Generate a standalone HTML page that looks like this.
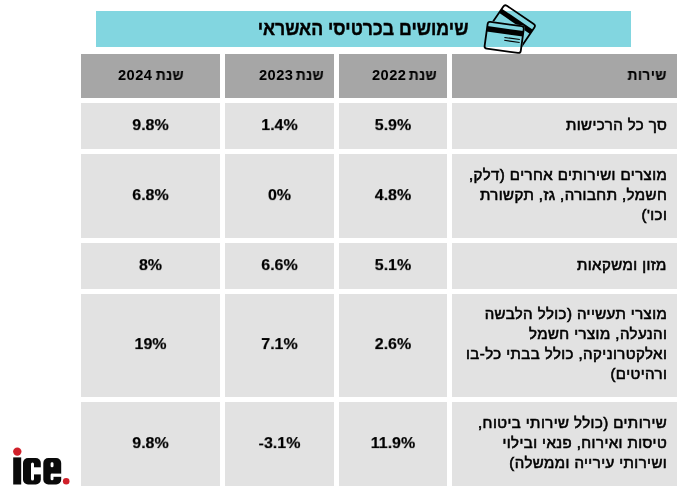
<!DOCTYPE html>
<html lang="he" dir="rtl">
<head>
<meta charset="utf-8">
<style>
html,body{margin:0;padding:0;background:#fff;width:696px;height:500px;overflow:hidden;}
body{position:relative;font-family:"Liberation Sans",sans-serif;color:#1a1a1a;}
.abs{position:absolute;}
.title{left:96px;top:11px;width:535px;height:36px;background:#82d6e0;}
.title span{position:absolute;right:163px;top:-0.7px;line-height:36px;font-size:20px;font-weight:bold;white-space:nowrap;color:#000;-webkit-text-stroke:0.45px #000;transform:scaleX(0.884);transform-origin:right center;}
.c{position:absolute;background:#e2e2e2;box-sizing:border-box;}
.h{background:#a6a6a6;}
.t{will-change:transform;position:absolute;font-size:15px;line-height:19px;white-space:nowrap;color:#000;-webkit-text-stroke:0.6px #000;letter-spacing:0.43px;}
.t.num{font-size:16px;letter-spacing:0;}
.b{font-weight:bold;}
.t.hd{font-size:14.67px;-webkit-text-stroke:0;}
.t.hh{transform:scaleX(.94);transform-origin:right center;-webkit-text-stroke:0.2px #000;}
.num{font-weight:bold;text-align:center;direction:ltr;-webkit-text-stroke:0.2px #000;transform:scaleY(.92);transform-origin:50% 4px;}
</style>
</head>
<body>
<div class="abs title"><span>שימושים בכרטיסי האשראי</span></div>

<!-- header -->
<div class="c h" style="left:81px;top:54px;width:139px;height:44px;"></div>
<div class="c h" style="left:225px;top:54px;width:109px;height:44px;"></div>
<div class="c h" style="left:339px;top:54px;width:108px;height:44px;"></div>
<div class="c h" style="left:452px;top:54px;width:225px;height:44px;"></div>

<!-- rows -->
<div class="c" style="left:81px;top:103px;width:139px;height:45.6px;"></div>
<div class="c" style="left:225px;top:103px;width:109px;height:45.6px;"></div>
<div class="c" style="left:339px;top:103px;width:108px;height:45.6px;"></div>
<div class="c" style="left:452px;top:103px;width:225px;height:45.6px;"></div>

<div class="c" style="left:81px;top:154px;width:139px;height:84px;"></div>
<div class="c" style="left:225px;top:154px;width:109px;height:84px;"></div>
<div class="c" style="left:339px;top:154px;width:108px;height:84px;"></div>
<div class="c" style="left:452px;top:154px;width:225px;height:84px;"></div>

<div class="c" style="left:81px;top:243px;width:139px;height:45.6px;"></div>
<div class="c" style="left:225px;top:243px;width:109px;height:45.6px;"></div>
<div class="c" style="left:339px;top:243px;width:108px;height:45.6px;"></div>
<div class="c" style="left:452px;top:243px;width:225px;height:45.6px;"></div>

<div class="c" style="left:81px;top:294px;width:139px;height:103px;"></div>
<div class="c" style="left:225px;top:294px;width:109px;height:103px;"></div>
<div class="c" style="left:339px;top:294px;width:108px;height:103px;"></div>
<div class="c" style="left:452px;top:294px;width:225px;height:103px;"></div>

<div class="c" style="left:81px;top:402px;width:139px;height:84px;"></div>
<div class="c" style="left:225px;top:402px;width:109px;height:84px;"></div>
<div class="c" style="left:339px;top:402px;width:108px;height:84px;"></div>
<div class="c" style="left:452px;top:402px;width:225px;height:84px;"></div>

<!-- header text -->
<div class="t b hd hh" style="right:29.5px;top:66px;">שירות</div>
<div class="t b hd hh" style="right:258.7px;top:66px;">שנת</div>
<div class="t b hd" style="left:371.5px;top:66px;">2022</div>
<div class="t b hd hh" style="right:371.7px;top:66px;">שנת</div>
<div class="t b hd" style="left:258.5px;top:66px;">2023</div>
<div class="t b hd hh" style="right:512.5px;top:66px;">שנת</div>
<div class="t b hd" style="left:117.5px;top:66px;">2024</div>

<!-- col1 text -->
<div class="t" style="right:29px;top:115.2px;">סך כל הרכישות</div>
<div class="t" style="right:29px;top:165.2px;line-height:20px;">מוצרים ושירותים אחרים (דלק,<br>חשמל, תחבורה, גז, תקשורת<br>וכו')</div>
<div class="t" style="right:29px;top:255.2px;">מזון ומשקאות</div>
<div class="t" style="right:29px;top:304.2px;line-height:20px;">מוצרי תעשייה (כולל הלבשה<br>והנעלה, מוצרי חשמל<br>ואלקטרוניקה, כולל בבתי כל-בו<br>ורהיטים)</div>
<div class="t" style="right:29px;top:413.2px;line-height:20px;">שירותים (כולל שירותי ביטוח,<br>טיסות ואירוח, פנאי ובילוי<br>ושירותי עירייה וממשלה)</div>

<!-- numbers -->
<div class="t num" style="left:339px;width:108px;top:116px;">5.9%</div>
<div class="t num" style="left:225px;width:109px;top:116px;">1.4%</div>
<div class="t num" style="left:81px;width:139px;top:116px;">9.8%</div>

<div class="t num" style="left:339px;width:108px;top:186px;">4.8%</div>
<div class="t num" style="left:225px;width:109px;top:186px;">0%</div>
<div class="t num" style="left:81px;width:139px;top:186px;">6.8%</div>

<div class="t num" style="left:339px;width:108px;top:256px;">5.1%</div>
<div class="t num" style="left:225px;width:109px;top:256px;">6.6%</div>
<div class="t num" style="left:81px;width:139px;top:256px;">8%</div>

<div class="t num" style="left:339px;width:108px;top:335px;">2.6%</div>
<div class="t num" style="left:225px;width:109px;top:335px;">7.1%</div>
<div class="t num" style="left:81px;width:139px;top:335px;">19%</div>

<div class="t num" style="left:339px;width:108px;top:434px;">11.9%</div>
<div class="t num" style="left:225px;width:109px;top:434px;">-3.1%</div>
<div class="t num" style="left:81px;width:139px;top:434px;">9.8%</div>


<svg class="abs" style="left:470px;top:0;" width="80" height="60" viewBox="470 0 80 60">
<defs>
<mask id="m" maskUnits="userSpaceOnUse" x="470" y="0" width="80" height="60">
<rect x="470" y="0" width="80" height="60" fill="#fff"/>
<g transform="translate(504.2 37.4) rotate(7.8)"><rect x="-18.25" y="-13.5" width="36.5" height="27" rx="2.5" fill="#000" stroke="#000" stroke-width="1.8"/></g>
</mask>
</defs>
<g mask="url(#m)">
<g transform="translate(512.7 26.05) rotate(34.2)">
<rect x="-18.75" y="-13.5" width="37.5" height="27" rx="2.5" fill="none" stroke="#000" stroke-width="1.8"/>
<rect x="-18.75" y="-8.3" width="37.5" height="5.1" fill="#000"/>
</g>
</g>
<g transform="translate(504.2 37.4) rotate(7.8)">
<rect x="-18.25" y="-13.5" width="36.5" height="27" rx="2.5" fill="none" stroke="#000" stroke-width="1.8"/>
<rect x="-18.25" y="-8.9" width="36.5" height="5.4" fill="#000"/>
<line x1="0.2" y1="0" x2="15.8" y2="0" stroke="#000" stroke-width="1.1"/>
<line x1="0.4" y1="2.9" x2="16" y2="2.9" stroke="#000" stroke-width="1.1"/>
</g>
</svg>

<svg class="abs" style="left:0;top:440px;" width="80" height="60" viewBox="0 440 80 60">
<circle cx="17.3" cy="451.6" r="4.2" fill="#d0202a"/>
<rect x="13.2" y="457.4" width="8" height="27.1" fill="#0a0a0a"/>
<rect x="23" y="458" width="17.8" height="26.5" rx="5" fill="#0a0a0a"/>
<rect x="31" y="462.6" width="3" height="17.8" rx="1.5" fill="#fff"/>
<rect x="33" y="467.3" width="9" height="7.1" fill="#fff"/>
<rect x="43.3" y="458" width="17.9" height="26.5" rx="5" fill="#0a0a0a"/>
<rect x="50.6" y="462.3" width="2.9" height="5" rx="1.4" fill="#fff"/>
<rect x="50.6" y="473.6" width="2.9" height="6.7" rx="1.4" fill="#fff"/>
<rect x="52.8" y="473.6" width="9" height="3.2" fill="#fff"/>
<circle cx="66.2" cy="481.2" r="3.3" fill="#d0202a"/>
</svg>
</body>
</html>
